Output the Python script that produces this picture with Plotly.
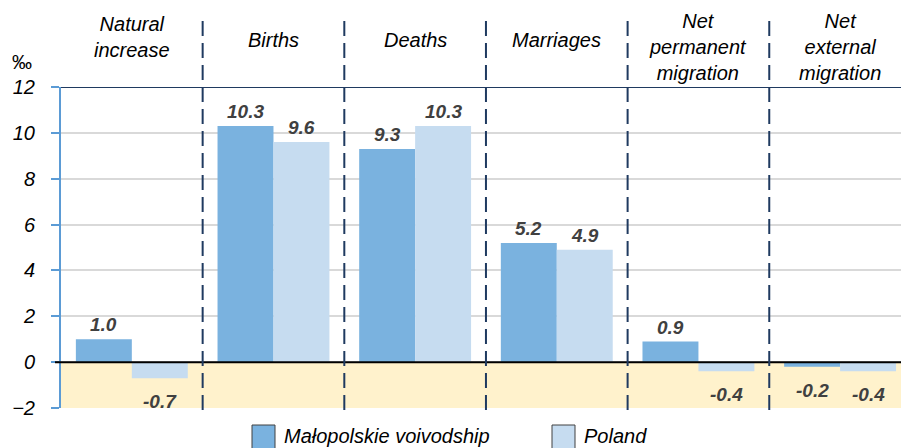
import plotly.graph_objects as go

# Vital statistics per 1000 population (‰)
categories = ["Natural<br>increase", "Births", "Deaths", "Marriages",
              "Net<br>permanent<br>migration", "Net<br>external<br>migration"]
malopolskie = [1.0, 10.3, 9.3, 5.2, 0.9, -0.2]
poland = [-0.7, 9.6, 10.3, 4.9, -0.4, -0.4]
series_names = ["Małopolskie voivodship", "Poland"]
y_ticks = [-2, 0, 2, 4, 6, 8, 10, 12]

W, H = 901, 448
M_L, M_R, M_T, M_B = 61, 0, 87, 40
PLOT_W = W - M_L - M_R
PLOT_H = H - M_T - M_B

FONT = "Liberation Sans, Arial, sans-serif"
C_MAL = "#7AB2DF"
C_POL = "#C6DCF0"
NAVY = "#1F3A60"
AXIS_BLUE = "#5B9BD5"
LABEL = "#404040"

BARGAP = 0.21
BAR_W = (1 - BARGAP) / 2


def px_x(p):
    return (p - M_L) / PLOT_W


def px_y(p):
    return (H - M_B - p) / PLOT_H


xs = list(range(len(categories)))

fig = go.Figure()
fig.add_trace(go.Bar(x=xs, y=malopolskie, name=series_names[0],
                     marker=dict(color=C_MAL, line=dict(width=0)),
                     showlegend=False))
fig.add_trace(go.Bar(x=xs, y=poland, name=series_names[1],
                     marker=dict(color=C_POL, line=dict(width=0)),
                     showlegend=False))

shapes = []
# shaded band below zero
shapes.append(dict(type="rect", xref="paper", yref="y", x0=0, x1=1, y0=-2, y1=0,
                   fillcolor="#FFF2CC", line=dict(width=0), layer="below"))
# top frame line at the axis maximum
shapes.append(dict(type="line", xref="paper", yref="y", x0=0, x1=1, y0=12, y1=12,
                   line=dict(color=NAVY, width=2)))
# zero line
shapes.append(dict(type="line", xref="paper", yref="y", x0=px_x(55), x1=1, y0=0, y1=0,
                   line=dict(color="black", width=2)))
# dashed separators between categories
for i in range(len(categories) - 1):
    shapes.append(dict(type="line", xref="x", yref="paper", x0=i + 0.5, x1=i + 0.5,
                       y0=px_y(410), y1=px_y(15),
                       line=dict(color=NAVY, width=2, dash="15px,7px")))

annotations = []
# category headers above the plot
header_y = [37.5, 40, 40, 40, 47, 47]
for i, (cat, py) in enumerate(zip(categories, header_y)):
    annotations.append(dict(x=i, xref="x", y=px_y(py), yref="paper", text=cat,
                            showarrow=False, yanchor="middle", xanchor="center",
                            font=dict(family=FONT, size=20, color="black", style="italic")))

# value labels
for vals, off in ((malopolskie, -BAR_W / 2), (poland, BAR_W / 2)):
    for i, v in enumerate(vals):
        annotations.append(dict(
            x=i + off, xref="x", y=v, yref="y", text=f"<b><i>{v:.1f}</i></b>",
            showarrow=False, xanchor="center",
            yanchor="bottom" if v >= 0 else "top",
            yshift=2 if v >= 0 else -11,
            font=dict(family=FONT, size=19, color=LABEL)))

# unit label
annotations.append(dict(x=px_x(22), xref="paper", y=px_y(62), yref="paper", text="‰",
                        showarrow=False, xanchor="center", yanchor="middle",
                        font=dict(family=FONT, size=20, color="black")))

# legend drawn below the plot
legend_items = [(series_names[0], C_MAL, 252), (series_names[1], C_POL, 552)]
for name, color, x0 in legend_items:
    shapes.append(dict(type="rect", xref="paper", yref="paper",
                       x0=px_x(x0), x1=px_x(x0 + 23), y0=px_y(425), y1=px_y(450),
                       fillcolor=color, line=dict(color="#404040", width=1)))
    annotations.append(dict(x=px_x(x0 + 30), xref="paper", y=px_y(436), yref="paper",
                            text=name, showarrow=False, xanchor="left", yanchor="middle",
                            font=dict(family=FONT, size=20, color="black", style="italic")))

fig.update_layout(
    width=W, height=H,
    margin=dict(l=M_L, r=M_R, t=M_T, b=M_B, pad=0),
    paper_bgcolor="white", plot_bgcolor="white",
    barmode="group", bargap=BARGAP, bargroupgap=0,
    shapes=shapes, annotations=annotations,
    showlegend=False,
)
fig.update_xaxes(range=[-0.5, 5.43], showticklabels=False, showgrid=False,
                 zeroline=False, showline=False, ticks="")
fig.update_yaxes(range=[-2, 12], tickvals=y_ticks, showgrid=True,
                 gridcolor="#D9D9D9", gridwidth=1.5, zeroline=False,
                 showline=True, linecolor=AXIS_BLUE, linewidth=2,
                 ticks="outside", ticklen=8, tickcolor=AXIS_BLUE, tickwidth=2,
                 ticklabelstandoff=12,
                 tickfont=dict(family=FONT, size=20, color="black", style="italic"))

fig.write_html("out.html")
